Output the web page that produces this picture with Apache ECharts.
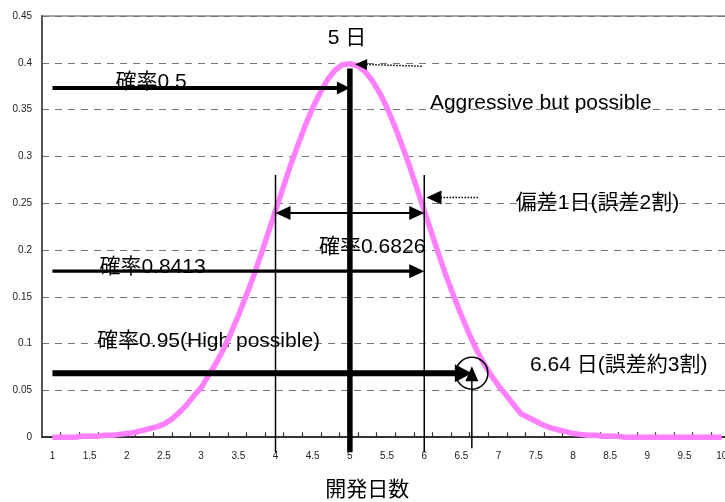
<!DOCTYPE html>
<html>
<head>
<meta charset="utf-8">
<title>開発日数の分布</title>
<script src="https://cdn.jsdelivr.net/npm/echarts@6/dist/echarts.min.js"></script>
<style>
  html, body { margin: 0; padding: 0; background: #fff; }
  #chart { width: 725px; height: 502px; }
</style>
</head>
<body>
<div id="chart"></div>
<script>
const FONT = "'Liberation Sans', Arial, 'Noto Sans CJK JP', sans-serif";

// ---- distribution of development days ----
const dayValues = [
  1.0, 1.1, 1.2, 1.3, 1.4, 1.5, 1.6, 1.7, 1.8, 1.9,
  2.0, 2.1, 2.2, 2.3, 2.4, 2.5, 2.6, 2.7, 2.8, 2.9,
  3.0, 3.1, 3.2, 3.3, 3.4, 3.5, 3.6, 3.7, 3.8, 3.9,
  4.0, 4.1, 4.2, 4.3, 4.4, 4.5, 4.6, 4.7, 4.8, 4.9,
  5.0, 5.1, 5.2, 5.3, 5.4, 5.5, 5.6, 5.7, 5.8, 5.9,
  6.0, 6.1, 6.2, 6.3, 6.4, 6.5, 6.6, 6.7, 6.8, 6.9,
  7.0, 7.1, 7.2, 7.3, 7.4, 7.5, 7.6, 7.7, 7.8, 7.9,
  8.0, 8.1, 8.2, 8.3, 8.4, 8.5, 8.6, 8.7, 8.8, 8.9,
  9.0, 9.1, 9.2, 9.3, 9.4, 9.5, 9.6, 9.7, 9.8, 9.9, 10.0
];
const densityValues = [
  0.000, 0.000, 0.000, 0.000, 0.001, 0.001, 0.001, 0.002, 0.002, 0.003,
  0.004, 0.005, 0.007, 0.009, 0.011, 0.014, 0.019, 0.026, 0.034, 0.044,
  0.053, 0.066, 0.079, 0.094, 0.111, 0.130, 0.150, 0.171, 0.194, 0.218,
  0.242, 0.266, 0.290, 0.312, 0.333, 0.352, 0.368, 0.382, 0.392, 0.398,
  0.399, 0.397, 0.391, 0.381, 0.368, 0.352, 0.333, 0.312, 0.290, 0.266,
  0.242, 0.218, 0.194, 0.171, 0.150, 0.130, 0.111, 0.094, 0.079, 0.066,
  0.055, 0.045, 0.035, 0.025, 0.021, 0.017, 0.013, 0.010, 0.008, 0.006,
  0.004, 0.003, 0.002, 0.002, 0.001, 0.001, 0.001, 0.000, 0.000, 0.000,
  0.000, 0.000, 0.000, 0.000, 0.000, 0.000, 0.000, 0.000, 0.000, 0.000, 0.000
];

const xTickLabels = ['1', '1.5', '2', '2.5', '3', '3.5', '4', '4.5', '5', '5.5',
  '6', '6.5', '7', '7.5', '8', '8.5', '9', '9.5', '10'];
const yTickLabels = ['0', '0.05', '0.1', '0.15', '0.2', '0.25', '0.3', '0.35', '0.4', '0.45'];

// ---- annotation geometry, in (day, density) units ----
const meanLine      = [[5, 0.394], [5, -0.016]];
const sigmaLowLine  = [[4, 0.28], [4, -0.016]];
const sigmaHighLine = [[6, 0.28], [6, -0.016]];
const sigmaSpan     = [[4, 0.2396], [6, 0.2396]];
const prob50Arrow   = [[1, 0.373], [5, 0.373]];
const prob84Arrow   = [[1, 0.1774], [6, 0.1774]];
const prob95Arrow   = [[1, 0.0684], [6.64, 0.0684]];
const day95Arrow    = [[6.64, -0.0118], [6.64, 0.0759]];
const peakPointer   = [[5.966, 0.3964], [5.07, 0.3985]];
const sigmaPointer  = [[6.723, 0.2561], [6.03, 0.2561]];
const day95Ring     = [6.64, 0.0684];

const noteTexts = ['5 日', '確率0.5', 'Aggressive but possible', '偏差1日(誤差2割)',
  '確率0.6826', '確率0.8413', '確率0.95(High possible)', '6.64 日(誤差約3割)'];
const noteAnchors = [[4.96, 0.426], [2.326, 0.3795], [7.567, 0.357], [8.33, 0.2495],
  [5.30, 0.203], [2.346, 0.182], [3.10, 0.103], [7.422, 0.077]];

// ---- drawing styles ----
const shapes = [
  { pts: meanLine, width: 5.5 },
  { pts: sigmaLowLine, width: 1.5 },
  { pts: sigmaHighLine, width: 1.5 },
  { pts: sigmaSpan, width: 2, headStart: [15, 14], headEnd: [15, 14] },
  { pts: prob50Arrow, width: 4, headEnd: [13, 13] },
  { pts: prob84Arrow, width: 3.3, headEnd: [15, 14] },
  { pts: prob95Arrow, width: 6, headEnd: [17, 18] },
  { pts: day95Arrow, width: 1.5, headEnd: [15, 13] },
  { pts: peakPointer, width: 1.5, dash: [1.5, 1.5], headEnd: [12, 11] },
  { pts: sigmaPointer, width: 1.5, dash: [1.5, 1.5], headEnd: [15, 14] },
  { ring: day95Ring, r: 16, width: 1.5 }
];
const noteAligns = ['center', 'center', 'center', 'center', 'center', 'center', 'center', 'left'];

function arrowHead(tip, from, len, wid) {
  const dx = tip[0] - from[0], dy = tip[1] - from[1];
  const L = Math.hypot(dx, dy) || 1;
  const ux = dx / L, uy = dy / L;
  const bx = tip[0] - ux * len, by = tip[1] - uy * len;
  const nx = -uy * wid / 2, ny = ux * wid / 2;
  return {
    poly: [[tip[0], tip[1]], [bx + nx, by + ny], [bx - nx, by - ny]],
    base: [bx + ux, by + uy]
  };
}

function renderShape(params, api) {
  const s = shapes[params.dataIndex];
  if (s.ring) {
    const c = api.coord(s.ring);
    return { type: 'circle', shape: { cx: c[0], cy: c[1], r: s.r },
      style: { fill: null, stroke: '#000', lineWidth: s.width } };
  }
  const a = api.coord(s.pts[0]);
  const b = api.coord(s.pts[1]);
  let p0 = a, p1 = b;
  const children = [];
  if (s.headEnd) {
    const h = arrowHead(b, a, s.headEnd[0], s.headEnd[1]);
    children.push({ type: 'polygon', shape: { points: h.poly }, style: { fill: '#000' } });
    p1 = h.base;
  }
  if (s.headStart) {
    const h = arrowHead(a, b, s.headStart[0], s.headStart[1]);
    children.push({ type: 'polygon', shape: { points: h.poly }, style: { fill: '#000' } });
    p0 = h.base;
  }
  children.unshift({ type: 'line',
    shape: { x1: p0[0], y1: p0[1], x2: p1[0], y2: p1[1] },
    style: { stroke: '#000', lineWidth: s.width, lineDash: s.dash || null, lineCap: 'butt' } });
  return { type: 'group', children };
}

function renderNote(params, api) {
  const i = params.dataIndex;
  const p = api.coord(noteAnchors[i]);
  return { type: 'text', x: p[0], y: p[1],
    style: { text: noteTexts[i], fontSize: 21, fontFamily: FONT, fill: '#000',
      align: noteAligns[i], verticalAlign: 'middle' } };
}

const xMin = 0.86, xMax = 10.2, tickStep = 0.25;
const xTickValues = xTickLabels.map(Number);
const minorTicks = [];
for (let t = xMin + tickStep; t < xMax; t += tickStep) minorTicks.push(+t.toFixed(3));

const chart = echarts.init(document.getElementById('chart'), null, { renderer: 'canvas' });
chart.setOption({
  animation: false,
  backgroundColor: '#fff',
  grid: {
    left: 42, top: 16, width: 694.6, height: 421.2,
    containLabel: false, outerBoundsMode: 'none',
    show: true, borderColor: '#8c8c8c', borderWidth: 1.5, backgroundColor: 'transparent'
  },
  xAxis: {
    type: 'value', min: xMin, max: xMax,
    name: '開発日数', nameLocation: 'middle', nameGap: 43,
    nameTextStyle: { fontSize: 21, color: '#000', fontFamily: FONT, padding: [0, 44, 0, 0] },
    axisLine: { show: true, lineStyle: { color: '#333', width: 2 } },
    axisTick: { show: true, inside: true, length: 5, customValues: minorTicks,
      lineStyle: { color: '#333', width: 1.2 } },
    axisLabel: {
      customValues: xTickValues, margin: 14, fontSize: 10, color: '#222', fontFamily: FONT,
      formatter: v => xTickLabels.find(l => Math.abs(Number(l) - v) < 1e-6) || ''
    },
    splitLine: { show: false }
  },
  yAxis: {
    type: 'value', min: 0, max: 0.45, interval: 0.05,
    axisLine: { show: true, lineStyle: { color: '#555', width: 2 } },
    axisTick: { show: false },
    axisLabel: { margin: 10, fontSize: 10, color: '#222', fontFamily: FONT,
      formatter: v => yTickLabels[Math.round(v / 0.05)] },
    splitLine: { show: true, lineStyle: { type: [7, 6], color: '#777', width: 1 } }
  },
  series: [
    {
      type: 'custom', name: 'notes', z: 2, clip: false,
      renderItem: renderNote,
      encode: { x: 0, y: 1 },
      data: noteAnchors
    },
    {
      type: 'line', name: '確率密度', z: 3,
      data: dayValues.map((d, i) => [d, densityValues[i]]),
      showSymbol: false, symbol: 'none',
      lineStyle: { color: '#ff80ff', width: 5.5, join: 'bevel' }
    },
    {
      type: 'custom', name: 'marks', z: 4, clip: false,
      renderItem: renderShape,
      encode: { x: 0, y: 1 },
      data: shapes.map(s => s.ring ? s.ring : s.pts[0])
    }
  ]
});
</script>
</body>
</html>
